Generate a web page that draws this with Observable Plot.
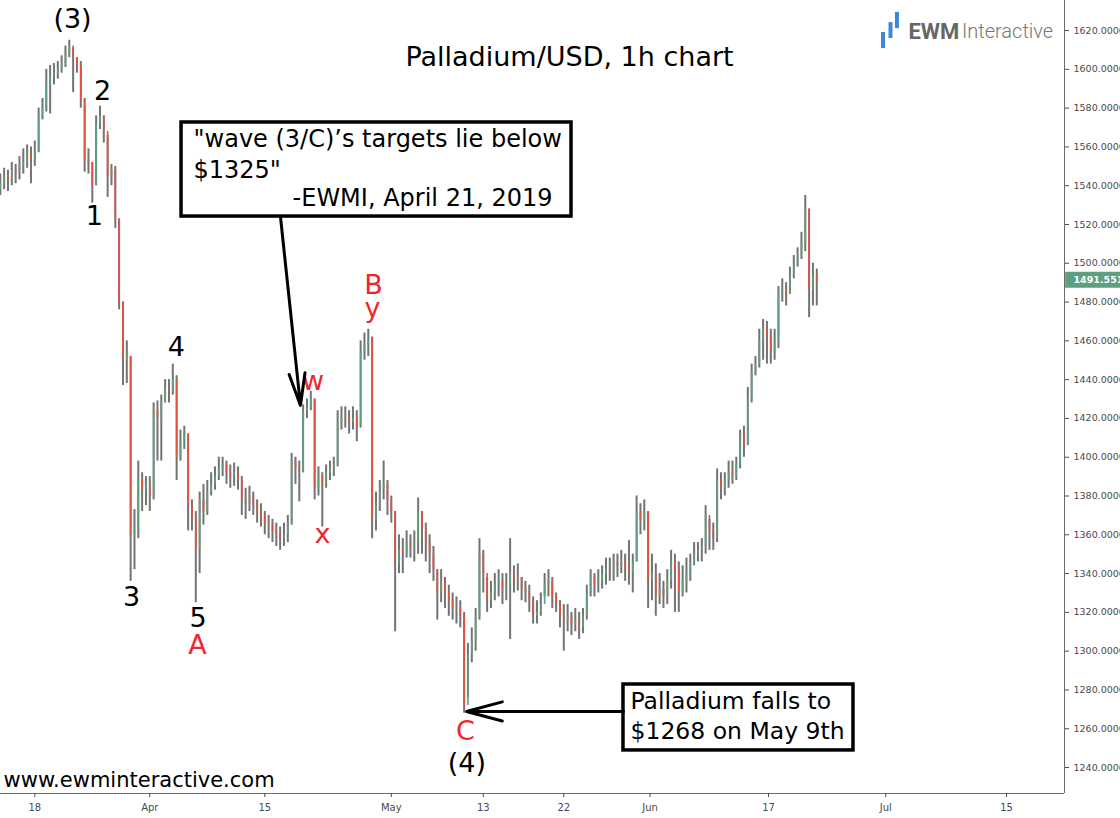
<!DOCTYPE html>
<html><head><meta charset="utf-8">
<script src="https://cdn.jsdelivr.net/npm/d3@7"></script>
<script src="https://cdn.jsdelivr.net/npm/@observablehq/plot@0.6"></script>
<style>html,body{margin:0;padding:0;background:#fff;overflow:hidden}</style>
</head><body><div id="chart"></div>
<script>
// time axis: trading days counted from Monday 18 March 2019 (weekends and Good Friday removed)
const firstBarDay = -3;
const barsPerDay = 3;          // 8-hour bars
const firstOpen = 1538;
const closes = [
1541,1545,1543,1548,1546,1550,1552,1556,1553,1558,
1576,1580,1592,1597,1598,1600,1603,1608,1612,1606,
1602,1584,1553,1552,1540,1572,1576,1568,1545,1548,
1522,1480,1450,1452,1360,1362,1388,1383,1386,1380,
1424,1420,1428,1436,1434,1440,1400,1408,1412,1375,
1370,1352,1378,1372,1382,1386,1390,1394,1396,1392,
1390,1392,1388,1378,1376,1380,1375,1372,1370,1366,
1365,1362,1360,1358,1360,1366,1398,1394,1392,1424,
1425,1430,1384,1390,1386,1392,1394,1396,1418,1420,
1422,1418,1420,1416,1455,1458,1460,1368,1375,1384,
1386,1378,1372,1345,1352,1350,1356,1354,1356,1372,
1362,1356,1350,1342,1330,1336,1330,1326,1322,1322,
1318,1272,1298,1306,1318,1350,1340,1326,1330,1334,
1336,1332,1334,1340,1336,1338,1332,1330,1326,1318,
1320,1324,1334,1336,1328,1324,1318,1316,1318,1314,
1316,1312,1318,1330,1338,1334,1336,1340,1342,1340,
1346,1344,1346,1344,1340,1346,1372,1368,1372,1336,
1340,1328,1332,1328,1336,1346,1342,1330,1336,1340,
1345,1350,1352,1354,1370,1362,1358,1388,1384,1388,
1392,1390,1396,1410,1406,1430,1444,1448,1460,1466,
1462,1455,1460,1484,1486,1484,1494,1500,1504,1510,
1528,1486,1494,1491.551];
const highs = [
1546,1549,1548,1552,1551,1555,1559,1561,1560,1563,
1580,1585,1600,1602,1603,1604,1607,1612,1615,1611,
1606,1604,1585,1559,1552,1576,1581,1576,1566,1551,
1550,1523,1480,1460,1452,1373,1398,1392,1390,1390,
1428,1429,1432,1440,1440,1448,1442,1414,1416,1412,
1378,1372,1382,1386,1388,1392,1395,1400,1400,1398,
1396,1397,1395,1390,1384,1385,1382,1378,1376,1372,
1370,1368,1366,1364,1366,1370,1402,1400,1398,1427,
1430,1434,1430,1395,1392,1396,1398,1400,1424,1426,
1426,1424,1426,1424,1460,1464,1466,1462,1382,1388,
1398,1388,1380,1372,1360,1358,1362,1360,1362,1379,
1372,1366,1360,1354,1342,1342,1338,1334,1330,1328,
1326,1320,1304,1312,1322,1358,1352,1338,1336,1340,
1342,1340,1340,1358,1344,1345,1338,1336,1334,1328,
1326,1330,1340,1342,1338,1330,1326,1324,1324,1320,
1322,1320,1322,1334,1342,1340,1342,1344,1348,1348,
1350,1350,1352,1350,1357,1350,1380,1376,1378,1372,
1350,1345,1340,1336,1342,1352,1350,1346,1344,1348,
1350,1356,1356,1358,1375,1368,1366,1394,1392,1392,
1398,1398,1400,1414,1416,1436,1448,1452,1466,1471,
1470,1466,1466,1488,1492,1490,1498,1504,1508,1516,
1535,1528,1500,1497];
const lows = [
1535,1538,1537,1540,1541,1543,1546,1549,1541,1550,
1557,1574,1578,1577,1592,1595,1598,1601,1606,1588,
1598,1580,1547,1546,1531,1540,1569,1562,1534,1540,
1518,1476,1437,1438,1336,1342,1358,1372,1375,1372,
1378,1398,1398,1428,1428,1432,1388,1398,1404,1362,
1362,1325,1340,1365,1370,1380,1383,1388,1390,1386,
1384,1385,1383,1370,1368,1372,1370,1366,1364,1360,
1358,1356,1354,1352,1354,1356,1365,1386,1377,1392,
1420,1424,1378,1380,1364,1384,1388,1390,1395,1414,
1415,1412,1414,1408,1415,1450,1452,1358,1362,1372,
1378,1370,1366,1310,1340,1340,1348,1348,1346,1350,
1350,1346,1340,1336,1316,1325,1322,1318,1316,1314,
1312,1268,1276,1294,1300,1316,1330,1320,1322,1326,
1328,1324,1326,1306,1330,1331,1326,1325,1320,1314,
1314,1318,1328,1328,1322,1320,1312,1300,1310,1308,
1310,1306,1309,1316,1328,1328,1330,1332,1334,1336,
1336,1338,1340,1336,1334,1330,1346,1360,1362,1322,
1326,1318,1324,1322,1324,1332,1320,1320,1328,1330,
1336,1344,1346,1346,1350,1352,1352,1356,1378,1380,
1384,1386,1388,1394,1400,1406,1428,1442,1446,1450,
1448,1448,1450,1456,1480,1478,1484,1492,1498,1502,
1506,1472,1478,1478];
const lastPrice = 1491.551;

const priceTicks = d3.range(1240, 1621, 20);
const dateTickDays = [0, 10, 20, 31, 39, 46, 53.5, 63.8, 74, 84.5];
const dateTickLabels = ["18", "Apr", "15", "May", "13", "22", "Jun", "17", "Jul", "15"];

// Elliott wave labels, anchored in (trading day, price)
const waveDays   = [3.28, 5.89, 5.17, 8.41, 12.30, 14.19, 14.15, 24.19, 25.02, 29.45, 29.37, 37.45, 37.57];
const wavePrices = [1625.7, 1588.8, 1524.1, 1327.7, 1456.6, 1316.8, 1302.9, 1439.2, 1360.0, 1488.5, 1476.8, 1258.6, 1242.1];
const waveTexts  = ["(3)", "2", "1", "3", "4", "5", "A", "w", "x", "B", "y", "C", "(4)"];
const waveRed    = [false, false, false, false, false, false, true, true, true, true, true, true, false];

// callout boxes (trading day, price extents)
const boxDays1 = [12.76, 51.19], boxDays2 = [46.67, 71.19];
const boxPrices1 = [1524.1, 1248.8], boxPrices2 = [1572.6, 1282.8];
const quoteLines = ["\"wave (3/C)\u2019s targets lie below", "$1325\"", "-EWMI, April 21, 2019"];
const quoteDays = [13.80, 13.80, 45.02];
const quotePrices = [1563.8, 1547.8, 1533.4];
const fallLines = ["Palladium falls to", "$1268 on May 9th"];
const fallDays = [51.80, 51.80];
const fallPrices = [1274.0, 1258.6];
const arrowFrom = [[21.37, 1523.6], [51.19, 1268.9]];
const arrowTo   = [[23.10, 1426.7], [37.54, 1268.9]];

const bars = closes.map((c, i) => ({
  day: firstBarDay + i / barsPerDay,
  open: i === 0 ? firstOpen : closes[i - 1],
  close: c, high: highs[i], low: lows[i]
}));
const waves = waveTexts.map((t, i) => ({t, day: waveDays[i], price: wavePrices[i], red: waveRed[i]}));
const boxes = boxDays1.map((d, i) => ({x1: d, x2: boxDays2[i], y1: boxPrices1[i], y2: boxPrices2[i]}));
const quotes = quoteLines.map((t, i) => ({t, day: quoteDays[i], price: quotePrices[i], end: i === 2}));
const falls = fallLines.map((t, i) => ({t, day: fallDays[i], price: fallPrices[i]}));
const arrows = arrowFrom.map((a, i) => ({x1: a[0], y1: a[1], x2: arrowTo[i][0], y2: arrowTo[i][1], big: i === 1}));

const xDomain = [-2.983, 89.54];
const yDomain = [1226.6, 1635.5];
const green = "#5c9f7d", red = "#e4513d", wick = "#737373", axisGray = "#6a6a6a";
const F = "DejaVu Sans";

const chart = Plot.plot({
  width: 1120, height: 818,
  marginLeft: 0, marginRight: 56, marginTop: 0, marginBottom: 25,
  x: {domain: xDomain, axis: null},
  y: {domain: yDomain, axis: null},
  style: {fontFamily: F, background: "#fff"},
  marks: [
    Plot.ruleX(bars, {x: "day", y1: "low", y2: "high", stroke: wick, strokeWidth: 2}),
    Plot.ruleX(bars, {x: "day", y1: "open", y2: "close", stroke: d => d.close >= d.open ? green : red, strokeWidth: 1.6}),
    Plot.ruleX([xDomain[1]], {stroke: axisGray, strokeWidth: 1}),
    Plot.ruleY([yDomain[0]], {stroke: axisGray, strokeWidth: 1}),
    Plot.axisY(priceTicks, {anchor: "right", label: null, tickSize: 4, tickPadding: 5,
      tickFormat: d => d.toFixed(4), fontSize: 9.5, color: "#4a4a4a", fontFamily: F}),
    Plot.axisX(dateTickDays, {anchor: "bottom", label: null, tickSize: 4, tickPadding: 6,
      tickFormat: d => dateTickLabels[dateTickDays.indexOf(d)], fontSize: 10, color: "#4a4a4a", fontFamily: F}),
    Plot.ruleY([lastPrice], {x1: xDomain[1] + 0.1, x2: 96, stroke: "#5e9f7f", strokeWidth: 16}),
    Plot.text([lastPrice], {x: xDomain[1], y: d => d, text: d => d.toFixed(4), dx: 9, textAnchor: "start",
      fill: "white", fontWeight: "bold", fontSize: 9.5}),
    // title
    Plot.text(["Palladium/USD, 1h chart"], {x: 46.5, y: 1606.1, text: d => d, fontSize: 27, fill: "black"}),
    // logo
    Plot.ruleX([73.76, 74.41, 74.97], {x: d => d, y1: [1610.7, 1615.9, 1621.0], y2: [1619.0, 1624.1, 1629.3], stroke: "#3b88d6", strokeWidth: 4}),
    Plot.text(["EWM"], {x: 75.97, y: 1619.5, text: d => d, textAnchor: "start", fontFamily: "Roboto", fontWeight: "bold", fontSize: 22, fill: "#666"}),
    Plot.text(["Interactive"], {x: 80.62, y: 1619.5, text: d => d, textAnchor: "start", fontFamily: "Roboto", fontWeight: 300, fontSize: 20, fill: "#777"}),
    // watermark
    Plot.text(["www.ewminteractive.com"], {x: -2.72, y: 1233.3, text: d => d, textAnchor: "start", fontSize: 21, fill: "black"}),
    // wave labels
    Plot.text(waves, {x: "day", y: "price", text: "t", fill: d => d.red ? "#f0262e" : "black", fontSize: 27, lineAnchor: "middle"}),
    // callouts
    Plot.rect(boxes, {x1: "x1", x2: "x2", y1: "y1", y2: "y2", fill: "white", stroke: "black", strokeWidth: 3.5}),
    Plot.text(quotes.filter(d => !d.end), {x: "day", y: "price", text: "t", textAnchor: "start", fontSize: 24, fill: "black"}),
    Plot.text(quotes.filter(d => d.end), {x: "day", y: "price", text: "t", textAnchor: "end", fontSize: 24, fill: "black"}),
    Plot.text(falls, {x: "day", y: "price", text: "t", textAnchor: "start", fontSize: 23.5, fill: "black"}),
    Plot.arrow(arrows.filter(d => !d.big), {x1: "x1", y1: "y1", x2: "x2", y2: "y2", stroke: "black", strokeWidth: 3, headLength: 16.5, headAngle: 28}),
    Plot.arrow(arrows.filter(d => d.big), {x1: "x1", y1: "y1", x2: "x2", y2: "y2", stroke: "black", strokeWidth: 3, headLength: 18.5, headAngle: 30})
  ]
});
document.getElementById("chart").append(chart);
</script>
</body></html>
